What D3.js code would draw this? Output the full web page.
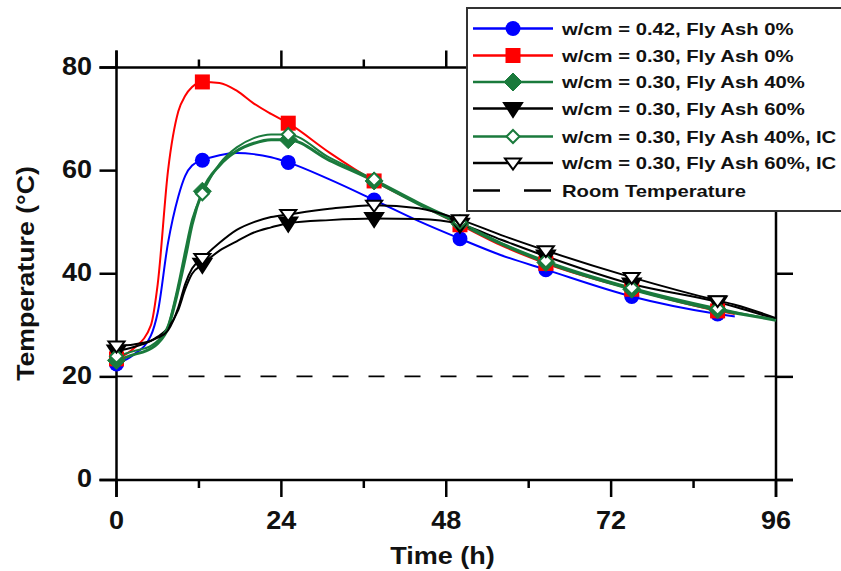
<!DOCTYPE html>
<html><head><meta charset="utf-8">
<script src="https://cdn.jsdelivr.net/npm/d3@7"></script>
<style>body{margin:0;background:#fff}svg{display:block}text{font-family:"Liberation Sans",Arial,sans-serif}</style>
</head><body><svg id="c" width="841" height="571"></svg>
<script>
// ---- data ----
const times = [0, 2.5, 5, 6, 7.5, 9, 10, 11, 12.5, 15, 17.5, 20, 22.5, 25, 31, 37.5, 44, 50, 56, 62.5, 75, 87.5, 90, 96];
const markerTimes = [0, 12.5, 25, 37.5, 50, 62.5, 75, 87.5];
const wcm042_FA0 = [22.5, 24.3, 28, 32.5, 46, 55, 59, 61, 62, 63, 63.4, 63.2, 62.6, 61.6, 58.3, 54.3, 50.2, 46.8, 43.6, 40.8, 35.6, 32.2, 31.7, null];
const wcm030_FA0 = [23.5, 25.5, 30, 38, 60, 71.5, 74.5, 76.2, 77.2, 77, 75.5, 73, 71, 69.2, 63.5, 58, 53.5, 49.5, 45.5, 42, 37, 32.8, 32.2, null];
const wcm030_FA40 = [23.2, 24.3, 25.5, 26.5, 29.5, 37, 43, 49.5, 56, 61, 63.8, 65.3, 66, 66, 62, 58, 53.5, 49.7, 45.8, 42.2, 37, 33, 32.4, 31];
const wcm030_FA60 = [25, 25.8, 27, 27.8, 29.5, 33, 37, 40, 41.8, 44.5, 46.3, 48, 49, 49.8, 50.4, 50.7, 50.6, 49.6, 46.6, 43.4, 38, 34.5, 33.6, 31.2];
const wcm030_FA40_IC = [24, 25, 26, 27, 30, 38, 44.5, 50.5, 55.5, 61.3, 64.5, 66.3, 67, 67, 62.5, 58.3, 53.8, 50, 46, 42.5, 37.3, 33.3, 32.6, 31.1];
const wcm030_FA60_IC = [26, 26.3, 27, 27.6, 29, 33.5, 38, 41, 43, 46, 48.5, 50, 51, 51.5, 52.6, 53.3, 52.7, 50.5, 47.5, 44.5, 39.3, 34.8, 34, 31.4];
const roomTimes = [0, 96];
const roomTemp = [20.1, 20.1];
const seriesNames = ["w/cm = 0.42, Fly Ash 0%", "w/cm = 0.30, Fly Ash 0%", "w/cm = 0.30, Fly Ash 40%", "w/cm = 0.30, Fly Ash 60%", "w/cm = 0.30, Fly Ash 40%, IC", "w/cm = 0.30, Fly Ash 60%, IC"];
const roomName = "Room Temperature";
const xTicks = [0, 24, 48, 72, 96];
const xMinorTicks = [12, 36, 60, 84];
const yTicks = [0, 20, 40, 60, 80];
const xLabel = "Time (h)";
const yLabel = "Temperature (\u00B0C)";

// ---- styles ----
const GREEN = "#1a7a3c";
const styles = [
  {color:"#0000ff", marker:"circle", fill:"#0000ff", w:2},
  {color:"#ff0000", marker:"square", fill:"#ff0000", w:2},
  {color:GREEN, marker:"diamond", fill:GREEN, w:3},
  {color:"#000000", marker:"tri", fill:"#000000", w:2},
  {color:GREEN, marker:"diamondOpen", fill:"#ffffff", w:2},
  {color:"#000000", marker:"triOpen", fill:"#ffffff", w:2}
];
const seriesVals = [wcm042_FA0, wcm030_FA0, wcm030_FA40, wcm030_FA60, wcm030_FA40_IC, wcm030_FA60_IC];

const svg = d3.select("#c");
const x = d3.scaleLinear().domain([0, 96]).range([116.5, 776]);
const y = d3.scaleLinear().domain([0, 80]).range([480, 67.5]);
const X0 = x(0), X1 = x(96), Y0 = y(0), Y1 = y(80);
const ext = 17, minor = 8;

// horizontal stretch of text (the reference text is wider than the font)
function stretch(sel, f) {
  sel.each(function () {
    const w = this.getComputedTextLength();
    d3.select(this).attr("textLength", w * f).attr("lengthAdjust", "spacingAndGlyphs");
  });
}

// frame/axes
const ax = svg.append("g").attr("stroke", "#000").attr("stroke-width", 2.5).attr("fill","none");
ax.append("line").attr("x1", X0 - ext).attr("x2", X1 + ext).attr("y1", Y0).attr("y2", Y0);
ax.append("line").attr("x1", X0 - ext).attr("x2", X1 + ext).attr("y1", Y1).attr("y2", Y1);
ax.append("line").attr("x1", X0).attr("x2", X0).attr("y1", Y1 - ext).attr("y2", Y0 + ext);
ax.append("line").attr("x1", X1).attr("x2", X1).attr("y1", Y1 - ext).attr("y2", Y0 + ext);
xTicks.forEach(t => {
  ax.append("line").attr("x1", x(t)).attr("x2", x(t)).attr("y1", Y0).attr("y2", Y0 + ext);
  ax.append("line").attr("x1", x(t)).attr("x2", x(t)).attr("y1", Y1).attr("y2", Y1 - ext);
});
xMinorTicks.forEach(t => {
  ax.append("line").attr("x1", x(t)).attr("x2", x(t)).attr("y1", Y0).attr("y2", Y0 + minor);
  ax.append("line").attr("x1", x(t)).attr("x2", x(t)).attr("y1", Y1).attr("y2", Y1 - minor);
});
yTicks.forEach(v => {
  ax.append("line").attr("x1", X0 - ext).attr("x2", X0).attr("y1", y(v)).attr("y2", y(v));
  ax.append("line").attr("x1", X1).attr("x2", X1 + ext).attr("y1", y(v)).attr("y2", y(v));
});

// tick labels
svg.append("g").selectAll("text").data(yTicks).join("text")
  .attr("x", 92).attr("y", d => y(d) - 2).attr("dy", "0.36em").attr("text-anchor", "end")
  .attr("font-size", 25).attr("font-weight", "bold").attr("fill", "#111").text(d => d)
  .call(stretch, 1.08);
svg.append("g").selectAll("text").data(xTicks).join("text")
  .attr("x", d => x(d)).attr("y", 529).attr("text-anchor", "middle")
  .attr("font-size", 25).attr("font-weight", "bold").attr("fill", "#111").text(d => d)
  .call(stretch, 1.08);
svg.append("text").attr("x", 442.5).attr("y", 564).attr("text-anchor", "middle")
  .attr("font-size", 23.5).attr("font-weight", "bold").attr("fill", "#111").text(xLabel)
  .call(stretch, 1.15);
svg.append("text").attr("transform", "translate(34,273.5) rotate(-90)").attr("text-anchor", "middle")
  .attr("font-size", 23).attr("font-weight", "bold").attr("fill", "#111").text(yLabel)
  .call(stretch, 1.16);

// room temperature
svg.append("path")
  .attr("d", d3.line().x((d, i) => x(roomTimes[i])).y(d => y(d))(roomTemp))
  .attr("stroke", "#000").attr("stroke-width", 1.8).attr("fill", "none").attr("stroke-dasharray", "16,20");

// series lines
const line = d3.line().defined(d => d != null).x((d, i) => x(times[i])).y(d => y(d)).curve(d3.curveMonotoneX);
seriesVals.forEach((vals, k) => {
  svg.append("path").attr("d", line(vals)).attr("fill", "none")
    .attr("stroke", styles[k].color).attr("stroke-width", styles[k].w);
});

function marker(g, type, cx, cy, st, scale) {
  const s = scale || 1;
  if (type === "circle") {
    g.append("circle").attr("cx", cx).attr("cy", cy).attr("r", 7.5 * s).attr("fill", st.fill);
  } else if (type === "square") {
    const h = 7.5 * s;
    g.append("rect").attr("x", cx - h).attr("y", cy - h).attr("width", 2 * h).attr("height", 2 * h).attr("fill", st.fill);
  } else if (type === "diamond" || type === "diamondOpen") {
    const h = (type === "diamond" ? 9 : 6.5) * s;
    g.append("path").attr("d", `M${cx},${cy - h}L${cx + h},${cy}L${cx},${cy + h}L${cx - h},${cy}Z`)
      .attr("fill", st.fill).attr("stroke", st.color).attr("stroke-width", type === "diamond" ? 1 : 2);
  } else {
    const w = (type === "tri" ? 9 : 8) * s, h = (type === "tri" ? 14 : 11) * s;
    g.append("path").attr("d", `M${cx - w},${cy - h * 0.4}L${cx + w},${cy - h * 0.4}L${cx},${cy + h * 0.6}Z`)
      .attr("fill", st.fill).attr("stroke", st.color).attr("stroke-width", 2).attr("stroke-linejoin", "miter");
  }
}

// markers
const mg = svg.append("g");
seriesVals.forEach((vals, k) => {
  markerTimes.forEach(t => {
    const i = times.indexOf(t);
    if (i >= 0 && vals[i] != null) marker(mg, styles[k].marker, x(t), y(vals[i]), styles[k]);
  });
});

// legend
const lg = svg.append("g");
lg.append("rect").attr("x", 467).attr("y", 8).attr("width", 390).attr("height", 203)
  .attr("fill", "#fff").attr("stroke", "#333").attr("stroke-width", 2);
const rowY = [28.5, 55.5, 82, 108.5, 136.5, 163, 190.5];
seriesNames.forEach((nm, k) => {
  const yy = rowY[k];
  lg.append("line").attr("x1", 473).attr("x2", 553).attr("y1", yy).attr("y2", yy)
    .attr("stroke", styles[k].color).attr("stroke-width", 2.5);
  marker(lg, styles[k].marker, 513, yy, styles[k], 1);
  lg.append("text").attr("x", 562).attr("y", yy).attr("dy", "0.36em").attr("font-size", 17)
    .attr("font-weight", "bold").attr("fill", "#111").text(nm).call(stretch, 1.19);
});
lg.append("line").attr("x1", 473).attr("x2", 553).attr("y1", rowY[6]).attr("y2", rowY[6])
  .attr("stroke", "#000").attr("stroke-width", 2.5).attr("stroke-dasharray", "27,24");
lg.append("text").attr("x", 562).attr("y", rowY[6]).attr("dy", "0.36em").attr("font-size", 17)
  .attr("font-weight", "bold").attr("fill", "#111").text(roomName).call(stretch, 1.19);
</script></body></html>
